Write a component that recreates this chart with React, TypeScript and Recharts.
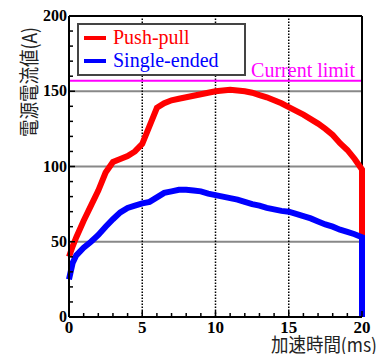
import React from 'react';
import {
  LineChart,
  Line,
  XAxis,
  YAxis,
  ReferenceLine,
  Legend,
  Label,
} from 'recharts';

// time axis (ms)
const timeMs = [
  0, 0.25, 0.5, 1, 1.5, 2, 2.5, 3, 3.5, 4, 4.5, 5, 5.5, 6, 6.5, 7, 7.5, 8, 8.5, 9, 9.5,
  10, 10.5, 11, 11.5, 12, 12.5, 13, 13.5, 14, 14.5, 15, 15.5, 16, 16.5, 17, 17.5, 18,
  18.5, 19, 19.5, 20, 20,
];
const pushPull = [
  40, 47, 53, 64, 74, 84, 96, 103, 105, 107, 110, 115, 127, 139, 142, 144, 145, 146,
  147, 148, 149, 150, 150.5, 151, 150.5, 150, 149, 147.5, 146, 144, 142, 139.5, 137,
  134.5, 131.5, 128.5, 125, 121, 115.5, 111, 105, 98, 0,
];
const singleEnded = [
  25, 36, 41, 46, 50, 54.5, 60, 65, 69.5, 72.5, 74, 75.5, 76.5, 79.5, 82.5, 83.5, 84.5,
  84.5, 84, 83.5, 82, 81, 80, 79, 78, 76.5, 75, 74, 72.5, 71.5, 70.5, 70, 68.5, 67,
  65.5, 63.5, 61.5, 60, 58, 56.5, 55, 53, 0,
];
const currentLimit = 157;

const xTicks = Array.from({ length: 21 }, (_, i) => i);
const yTicks = Array.from({ length: 21 }, (_, i) => i * 10);
const hGrid = [50, 100, 150];
const vGrid = [5, 10, 15];

const data = timeMs.map((t, i) => ({ t, pp: pushPull[i], se: singleEnded[i] }));

const serif = { fontFamily: '"Liberation Serif", "Times New Roman", Times, serif' };
const cjk = { fontFamily: '"Noto Sans CJK JP", sans-serif' };

const XTick = ({ x, y, payload }: any) => {
  const major = payload.value % 5 === 0;
  return (
    <g>
      <line x1={x} x2={x} y1={y} y2={y - (major ? 6 : 4)} stroke="#000" strokeWidth={1.5} />
      {major && (
        <text x={x} y={y + 16} textAnchor="middle" style={serif} fontWeight="bold" fontSize={17} fill="#000">
          {payload.value}
        </text>
      )}
    </g>
  );
};

const YTick = ({ x, y, payload }: any) => {
  const major = payload.value % 50 === 0;
  return (
    <g>
      <line x1={x} x2={x + (major ? 6 : 4)} y1={y} y2={y} stroke="#000" strokeWidth={1.5} />
      {major && (
        <text x={x - 2} y={y + 5} textAnchor="end" style={serif} fontWeight="bold" fontSize={16} fill="#000">
          {payload.value}
        </text>
      )}
    </g>
  );
};

const LegendBox = () => (
  <svg width={169} height={53} style={{ display: 'block' }}>
    <rect x={1} y={1} width={167} height={51} fill="#fff" stroke="#444" strokeWidth={2} />
    <line x1={7} x2={29} y1={15} y2={15} stroke="#ff0000" strokeWidth={4} />
    <text x={36} y={21} style={serif} fontSize={20} fill="#ff0000">Push-pull</text>
    <line x1={7} x2={29} y1={38} y2={38} stroke="#0000ff" strokeWidth={4} />
    <text x={36} y={44} style={serif} fontSize={20} fill="#0000ff">Single-ended</text>
  </svg>
);

export default function App() {
  return (
    <div style={{ position: 'absolute', left: 0, top: 0, width: 384, height: 354, background: '#fff' }}>
      <LineChart width={384} height={354} data={data} margin={{ top: 16, right: 22, bottom: 0, left: 0 }}>
        <XAxis
          dataKey="t"
          type="number"
          domain={[0, 20]}
          ticks={xTicks}
          interval={0}
          height={37}
          tickSize={0}
          tickMargin={0}
          tickLine={false}
          axisLine={{ stroke: '#000', strokeWidth: 2 }}
          tick={<XTick />}
        >
          <Label
            content={() => (
              <text x={271} y={352} style={cjk} fontSize={19} fill="#222" textLength={106} lengthAdjust="spacingAndGlyphs">
                加速時間(ms)
              </text>
            )}
          />
        </XAxis>
        <YAxis
          type="number"
          domain={[0, 200]}
          ticks={yTicks}
          interval={0}
          width={69}
          tickSize={0}
          tickMargin={0}
          tickLine={false}
          axisLine={{ stroke: '#000', strokeWidth: 2 }}
          tick={<YTick />}
        >
          <Label
            content={() => (
              <text
                x={0}
                y={0}
                transform="translate(37 137) rotate(-90)"
                style={cjk}
                fontSize={20}
                fill="#222"
                textLength={110}
                lengthAdjust="spacingAndGlyphs"
              >
                電源電流値(A)
              </text>
            )}
          />
        </YAxis>
        {hGrid.map((v) => (
          <ReferenceLine key={'h' + v} y={v} stroke="#888" strokeWidth={2} />
        ))}
        {vGrid.map((v) => (
          <ReferenceLine key={'v' + v} x={v} stroke="#000" strokeWidth={1.5} strokeDasharray="1.5 1.5" />
        ))}
        <ReferenceLine
          y={currentLimit}
          stroke="#ff00ff"
          strokeWidth={2}
          label={(p: any) => {
            const vb = p.viewBox;
            return (
              <text x={vb.x + vb.width - 7} y={vb.y - 4} textAnchor="end" style={serif} fontSize={20} fill="#ff00ff">
                Current limit
              </text>
            );
          }}
        />
        <ReferenceLine y={200} stroke="#000" strokeWidth={2} />
        <ReferenceLine x={20} stroke="#000" strokeWidth={2} />
        <Line
          dataKey="pp"
          name="Push-pull"
          type="linear"
          stroke="#ff0000"
          strokeWidth={6}
          dot={false}
          isAnimationActive={false}
        />
        <Line
          dataKey="se"
          name="Single-ended"
          type="linear"
          stroke="#0000ff"
          strokeWidth={6}
          dot={false}
          isAnimationActive={false}
        />
        <Legend
          layout="vertical"
          align="center"
          verticalAlign="middle"
          content={() => <LegendBox />}
          wrapperStyle={{ position: 'absolute', left: 77, top: 23, width: 169, height: 53 }}
        />
      </LineChart>
    </div>
  );
}
